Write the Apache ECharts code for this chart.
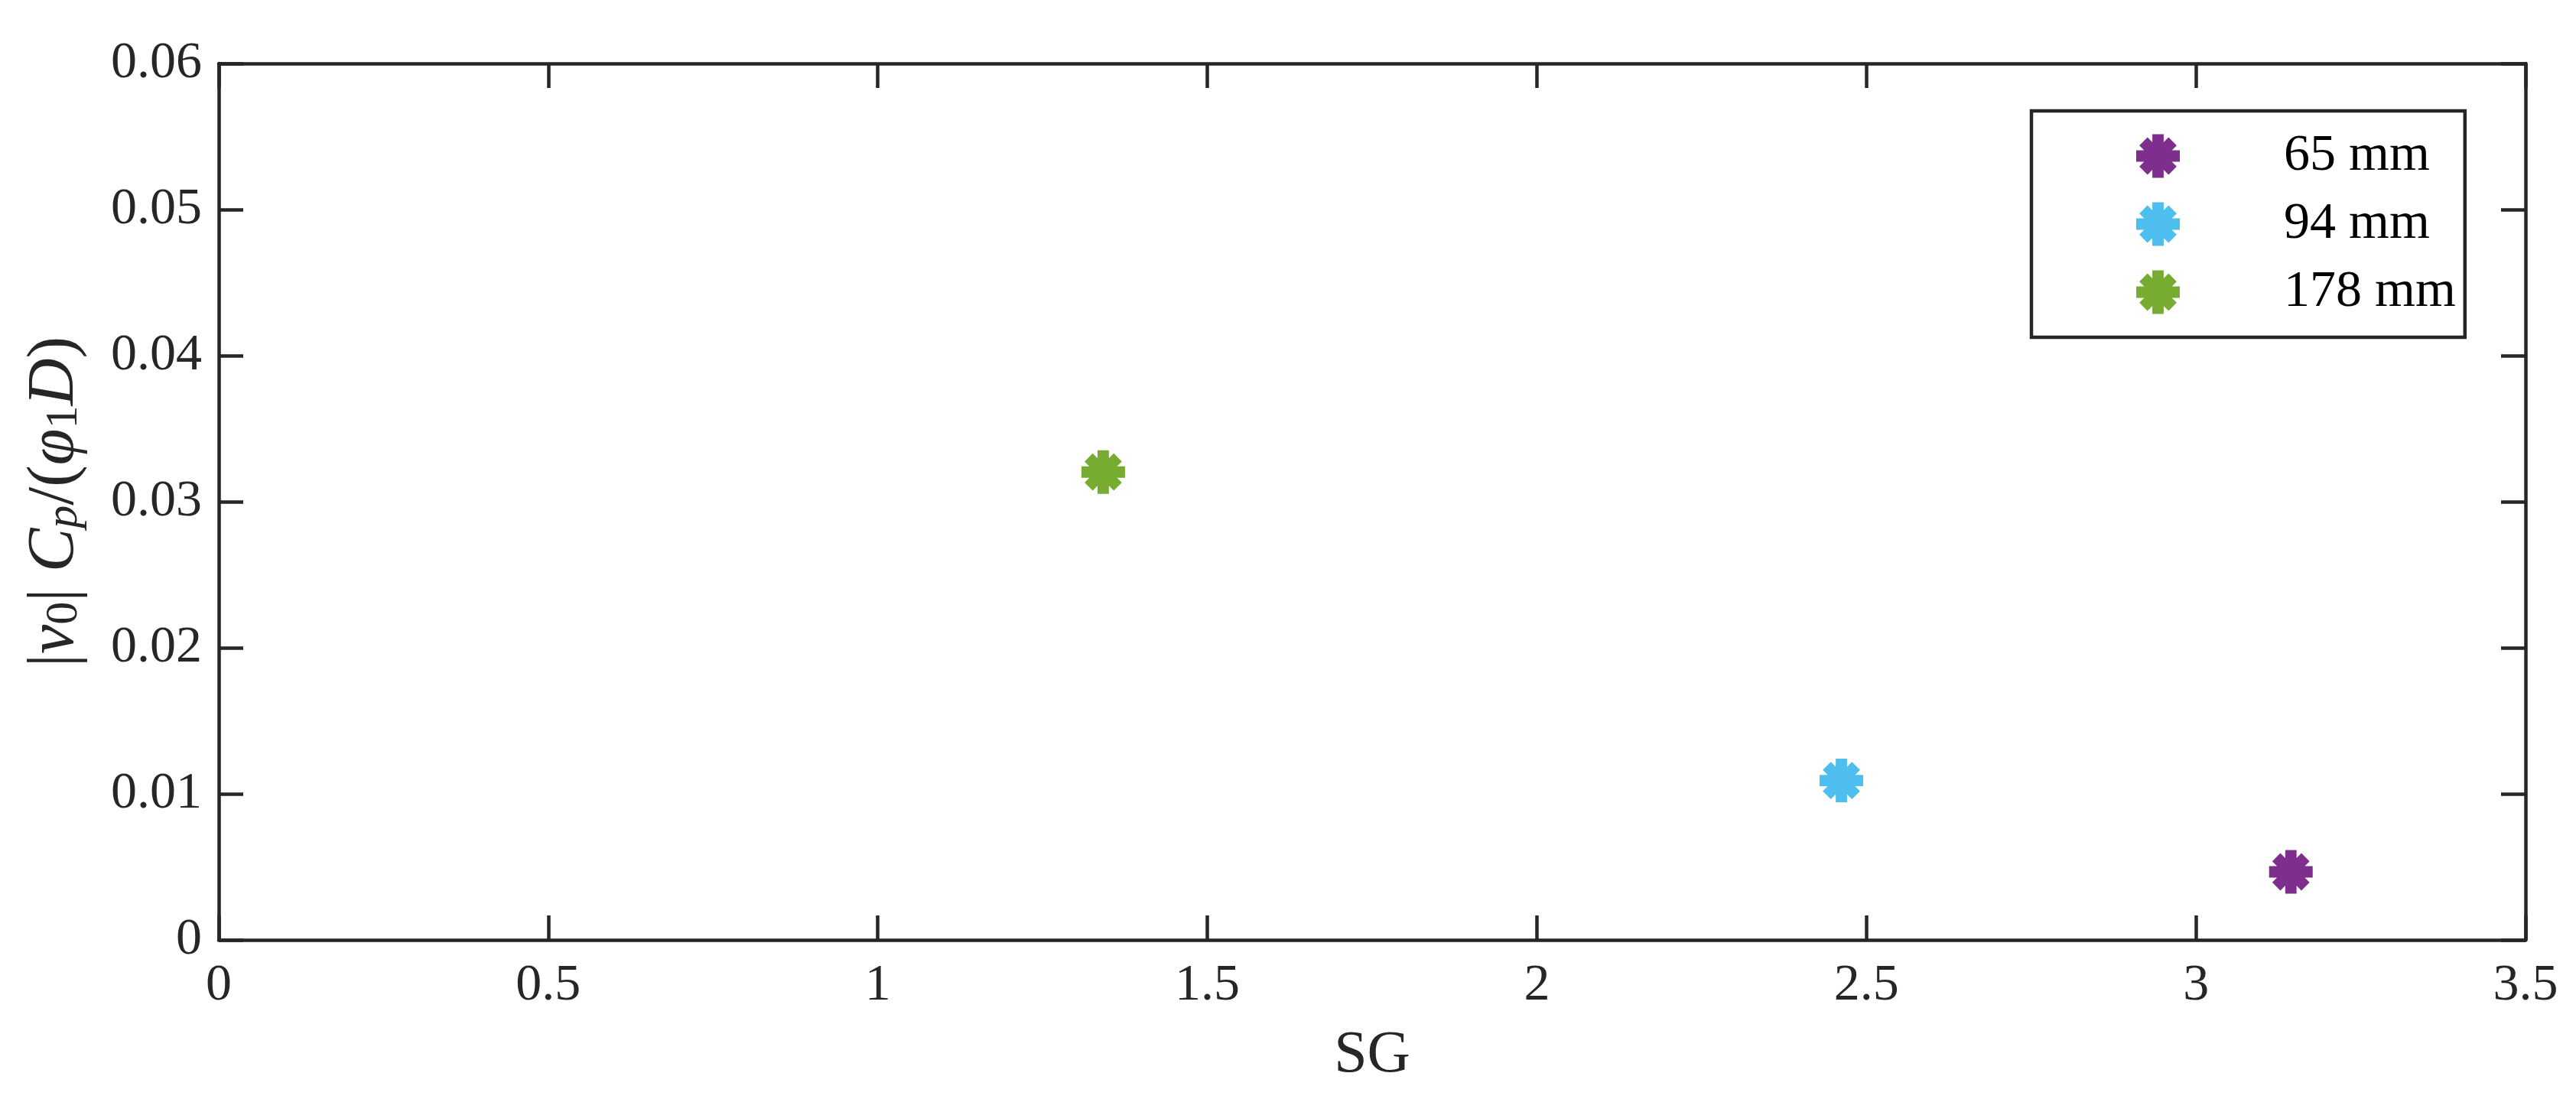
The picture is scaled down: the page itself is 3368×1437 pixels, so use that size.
<!DOCTYPE html>
<html>
<head>
<meta charset="utf-8">
<script src="https://cdn.jsdelivr.net/npm/echarts@6/dist/echarts.min.js"></script>
<style>
  html, body { margin: 0; padding: 0; background: #fff; }
  #chart { width: 3368px; height: 1437px; }
</style>
</head>
<body>
<div id="chart"></div>
<script>
// data
const seriesNames = ['65 mm', '94 mm', '178 mm'];
const sgValues = [3.144, 2.462, 1.342];
const ampValues = [0.00466, 0.01091, 0.03203];
const seriesColors = ['#7E2F8E', '#4DBEEE', '#77AC30'];

const xMin = 0, xMax = 3.5, xStep = 0.5;
const yMin = 0, yMax = 0.06, yStep = 0.01;

// filled 8-arm asterisk like matlab's '*' with a fat line
const starPath = 'path://M37 0L63 0L63 100L37 100Z' +
  'M0 37L100 37L100 63L0 63Z' +
  'M25.8 7.2L92.8 74.2L74.2 92.8L7.2 25.8Z' +
  'M74.2 7.2L92.8 25.8L25.8 92.8L7.2 74.2Z';

const ink = '#262626';
const fontFamily = '"Liberation Serif", "DejaVu Serif", serif';

const chart = echarts.init(document.getElementById('chart'));

const axisLine = { show: true, onZero: false, lineStyle: { color: ink, width: 4.5 } };
const axisTick = { show: true, inside: true, length: 32, lineStyle: { color: ink, width: 4.5 } };

const option = {
  backgroundColor: '#fff',
  animation: false,
  textStyle: { fontFamily: fontFamily },
  grid: { left: 286, right: 66, top: 83, bottom: 208 },
  legend: {
    orient: 'vertical',
    left: 2656,
    top: 145,
    padding: [25, 12, 25, 137],
    itemWidth: 57,
    itemHeight: 57,
    itemGap: 21,
    icon: starPath,
    borderColor: ink,
    borderWidth: 4.5,
    borderRadius: 0,
    backgroundColor: '#fff',
    textStyle: {
      fontFamily: fontFamily,
      fontSize: 68,
      color: '#000',
      padding: [0, 0, 0, 131]
    },
    data: seriesNames
  },
  xAxis: [
    {
      type: 'value',
      min: xMin, max: xMax, interval: xStep,
      name: 'SG',
      nameLocation: 'middle',
      nameGap: 113,
      nameTextStyle: { fontFamily: fontFamily, fontSize: 78, color: ink },
      axisLine: axisLine,
      axisTick: axisTick,
      splitLine: { show: false },
      axisLabel: { fontFamily: fontFamily, fontSize: 68, color: ink, margin: 26 }
    },
    {
      type: 'value', position: 'top',
      min: xMin, max: xMax, interval: xStep,
      axisLine: axisLine, axisTick: axisTick,
      splitLine: { show: false }, axisLabel: { show: false }
    }
  ],
  yAxis: [
    {
      type: 'value',
      min: yMin, max: yMax, interval: yStep,
      name: '{n||}{i|v}{s|0}{n||} {i|C}{si|p}{n|/(}{i|φ}{s|1}{i|D}{n|)}',
      nameLocation: 'middle',
      nameRotate: 90,
      nameGap: 172,
      nameTextStyle: {
        fontFamily: fontFamily,
        fontSize: 86,
        color: ink,
        lineHeight: 84,
        rich: {
          n: { fontFamily: fontFamily, fontSize: 86, color: ink, lineHeight: 84 },
          i: { fontFamily: fontFamily, fontSize: 86, fontStyle: 'italic', color: ink, lineHeight: 84 },
          s: { fontFamily: fontFamily, fontSize: 60, color: ink, lineHeight: 30, verticalAlign: 'bottom' },
          si: { fontFamily: fontFamily, fontSize: 60, fontStyle: 'italic', color: ink, lineHeight: 30, verticalAlign: 'bottom' }
        }
      },
      axisLine: axisLine,
      axisTick: axisTick,
      splitLine: { show: false },
      axisLabel: { fontFamily: fontFamily, fontSize: 68, color: ink, margin: 22 }
    },
    {
      type: 'value', position: 'right',
      min: yMin, max: yMax, interval: yStep,
      axisLine: axisLine, axisTick: axisTick,
      splitLine: { show: false }, axisLabel: { show: false }
    }
  ],
  series: seriesNames.map((name, i) => ({
    name: name,
    type: 'scatter',
    symbol: starPath,
    symbolSize: 57,
    itemStyle: { color: seriesColors[i], opacity: 1 },
    data: [[sgValues[i], ampValues[i]]]
  }))
};

chart.setOption(option);
</script>
</body>
</html>
